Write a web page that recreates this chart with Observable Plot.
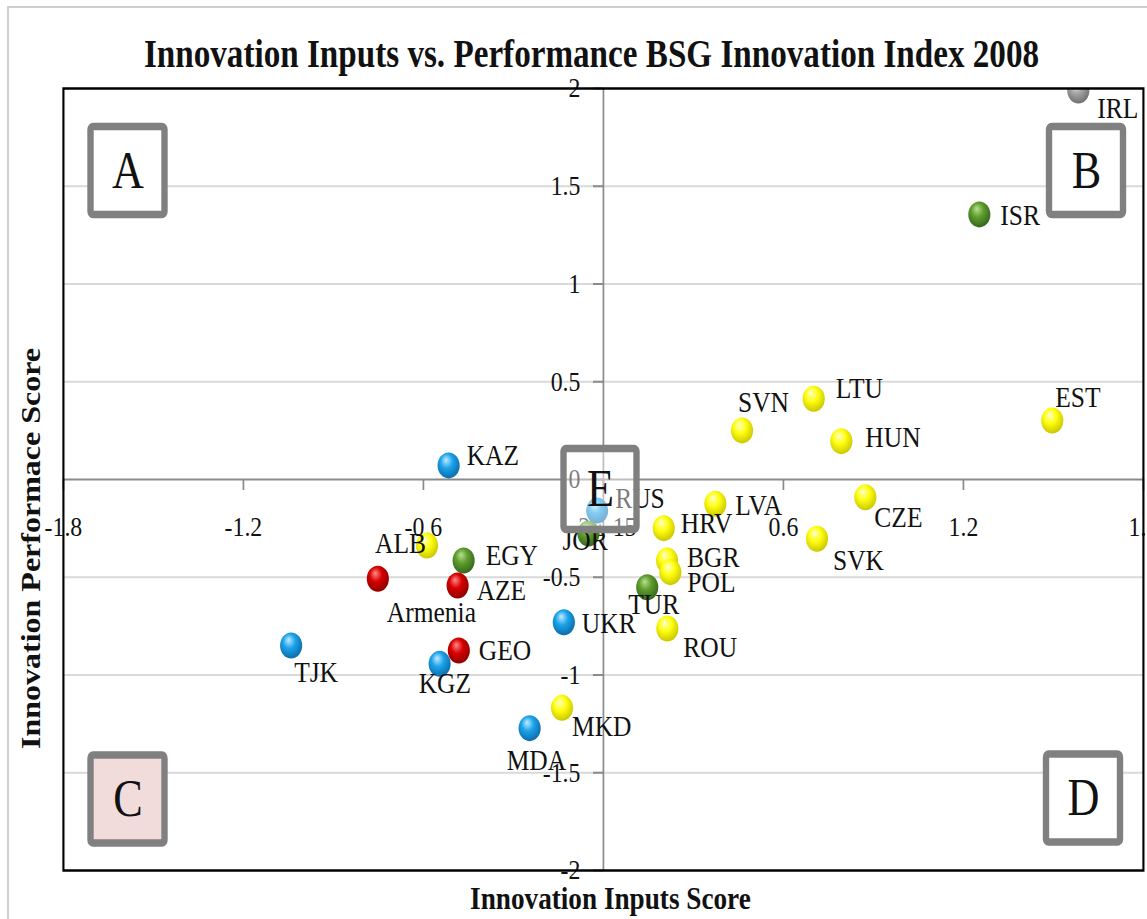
<!DOCTYPE html>
<html>
<head>
<meta charset="utf-8">
<script src="https://cdn.jsdelivr.net/npm/d3@7"></script>
<script src="https://cdn.jsdelivr.net/npm/@observablehq/plot@0.6"></script>
<style>
  body { margin: 0; background: #fff; width: 1147px; height: 919px; overflow: hidden; position: relative; font-family: "Liberation Serif", "DejaVu Serif", serif; }
  #border { position: absolute; left: 7px; top: 6px; width: 1300px; height: 1000px; border: 2px solid #cfcfcf; }
  #title { position: absolute; left: 0; top: 34px; width: 1183px; text-align: center; font: bold 39px/39px "Liberation Serif", serif; color: #111; transform: scaleX(0.85); transform-origin: 591.5px 0; white-space: nowrap; }
  #chart { position: absolute; left: 0; top: 80px; }
</style>
</head>
<body>
<div id="border"></div>
<div id="title">Innovation Inputs vs. Performance BSG Innovation Index 2008</div>
<div id="chart"></div>
<script>
// ---- data ----
const countries = ["IRL","ISR","EST","LTU","SVN","HUN","CZE","SVK","LVA","HRV","BGR","POL","TUR","ROU","RUS","JOR","KAZ","ALB","EGY","Armenia","AZE","GEO","KGZ","TJK","UKR","MKD","MDA"];
const inputScores = [1.583,1.253,1.496,0.701,0.462,0.793,0.873,0.712,0.373,0.201,0.212,0.223,0.146,0.213,-0.021,-0.05,-0.516,-0.588,-0.466,-0.752,-0.486,-0.482,-0.546,-1.041,-0.132,-0.138,-0.246];
const performanceScores = [1.99,1.356,0.302,0.413,0.251,0.196,-0.091,-0.303,-0.124,-0.249,-0.414,-0.474,-0.551,-0.762,-0.159,-0.276,0.072,-0.338,-0.414,-0.508,-0.542,-0.875,-0.943,-0.849,-0.730,-1.168,-1.272];
const groups = ["gray","green","yellow","yellow","yellow","yellow","yellow","yellow","yellow","yellow","yellow","yellow","green","yellow","blue","green","blue","yellow","green","red","red","red","blue","blue","blue","yellow","blue"];

const xTicks = [-1.8,-1.2,-0.6,0,0.6,1.2,1.8];
const xTickLabels = ["-1.8","-1.2","-0.6","-2E-15","0.6","1.2","1.8"];
const yTicks = [-2,-1.5,-1,-0.5,0,0.5,1,1.5,2];
const yTickLabels = ["-2","-1.5","-1","-0.5","0","0.5","1","1.5","2"];
const gridValues = [-1.5,-1,-0.5,0.5,1,1.5];

const quadrantLetters = ["A","B","C","D"];
const quadrantX = [-1.585,1.61,-1.585,1.6];
const quadrantY = [1.578,1.578,-1.637,-1.632];
const centerLetter = "E";
const centerX = -0.01;
const centerY = -0.051;

// ---- layout / style ----
const S = 1147 / 1349;         // horizontal squeeze of the original picture
const W = 1349, H = 839;
const groupColor = {yellow: "#ffff00", green: "#5e9c2e", red: "#d00000", blue: "#1ca3ea", gray: "#a6a6a6"};
const gradStops = {
  yellow: ["#ffffd0", "#ffff10", "#c9c400"],
  green:  ["#b9e08f", "#5e9c2e", "#35661a"],
  red:    ["#ff8a8a", "#d80000", "#8c0000"],
  blue:   ["#c2ecff", "#1ca3ea", "#0a6aa8"],
  gray:   ["#eeeeee", "#a6a6a6", "#6e6e6e"]
};
// label offsets in screen px: [anchor, dx, dy]
const labelLayout = {
  IRL:["start",19,18], ISR:["start",21,1], EST:["start",3,-23], LTU:["start",22,-10], SVN:["start",-4,-28],
  HUN:["start",24,-4], CZE:["start",9,20], SVK:["start",16,22], LVA:["start",20,2], HRV:["start",17,-5],
  BGR:["start",20,-3], POL:["start",17,10], TUR:["start",-19,17], ROU:["start",16,19], RUS:["start",18,-12],
  JOR:["start",-26,7], KAZ:["start",18,-10], ALB:["end",-1,-2], EGY:["start",22,-5], Armenia:["start",9,34],
  AZE:["start",19,5], GEO:["start",20,0], KGZ:["start",-21,20], TJK:["start",3,27], UKR:["start",18,1],
  MKD:["start",10,19], MDA:["start",-23,32]
};

const data = countries.map((c, i) => ({country: c, x: inputScores[i], y: performanceScores[i], group: groups[i]}));
const quads = quadrantLetters.map((l, i) => ({letter: l, x: quadrantX[i], y: quadrantY[i], fill: l === "C" ? "#f2dcdb" : "#ffffff"}));
const center = [{letter: centerLetter, x: centerX, y: centerY}];

const pxPerX = (1143 - 63) / 3.6, pxPerY = (870 - 88) / 4;
const boxHW = 37 / pxPerX, boxHH = 44 / pxPerY;
const eHW = 36.5 / pxPerX, eHH = 40.5 / pxPerY;
const xTickLen = 11 / pxPerY, yTickLen = 10 / pxPerX;
const axisGray = "#8a8a8a";

const labelMarks = data.map(d => {
  const [anchor, dx, dy] = labelLayout[d.country];
  return Plot.text([d], {x: "x", y: "y", text: "country", textAnchor: anchor, dx: dx / S, dy: dy, fontSize: 30, fill: "#111"});
});

const svg = Plot.plot({
  width: W, height: H,
  marginLeft: 63 / S, marginRight: W - 1143 / S, marginTop: 8, marginBottom: 49,
  x: {domain: [-1.8, 1.8], axis: null},
  y: {domain: [-2, 2], axis: null},
  color: {type: "identity"},
  style: {fontFamily: "'Liberation Serif', 'DejaVu Serif', serif", background: "transparent", overflow: "visible", color: "#111"},
  marks: [
    Plot.ruleY(gridValues, {stroke: "#d9d9d9", strokeWidth: 2}),
    Plot.ruleY([0], {stroke: axisGray, strokeWidth: 2}),
    Plot.ruleX([0], {stroke: axisGray, strokeWidth: 2}),
    Plot.ruleX(xTicks, {x: d => d, y1: 0, y2: -xTickLen, stroke: axisGray, strokeWidth: 2}),
    Plot.ruleY(yTicks, {y: d => d, x1: 0, x2: -yTickLen, stroke: axisGray, strokeWidth: 2}),
    Plot.text(xTicks, {x: d => d, y: 0, text: (d, i) => xTickLabels[i], dy: 48, fontSize: 28, fill: "#111"}),
    Plot.text(yTicks, {x: 0, y: d => d, text: (d, i) => yTickLabels[i], textAnchor: "end", dx: -23 / S, fontSize: 28, fill: "#111"}),
    Plot.rect(quads, {x1: d => d.x - boxHW, x2: d => d.x + boxHW, y1: d => d.y - boxHH, y2: d => d.y + boxHH, fill: "fill", stroke: "#808080", strokeWidth: 7.5, rx: 3}),
    Plot.text(quads, {x: "x", y: "y", text: "letter", fontSize: 52, fill: "#111"}),
    Plot.dot(data, {x: "x", y: "y", r: 13, fill: d => groupColor[d.group], clip: true}),
    ...labelMarks,
    Plot.rect(center, {x1: d => d.x - eHW, x2: d => d.x + eHW, y1: d => d.y - eHH, y2: d => d.y + eHH, fill: "#ffffff", fillOpacity: 0.45, stroke: "#808080", strokeWidth: 7.5, rx: 3}),
    Plot.text(center, {x: "x", y: "y", text: "letter", fontSize: 52, fill: "#111"}),
    Plot.text(["Innovation Inputs Score"], {frameAnchor: "bottom", textAnchor: "middle", lineAnchor: "middle", text: d => d, dy: 28, dx: 7 / S, fontWeight: "bold", fontSize: 32, fill: "#111"}),
    Plot.text(["Innovation Performace Score"], {frameAnchor: "left", textAnchor: "middle", lineAnchor: "middle", text: d => d, rotate: -90, dx: (31 - 63) / S, dy: 69, fontWeight: "bold", fontSize: 32, fill: "#111"}),
    Plot.frame({stroke: "#000", strokeWidth: 2.5})
  ]
});

// squeeze horizontally like the original picture
svg.setAttribute("width", 1147);
svg.setAttribute("height", H);
svg.setAttribute("viewBox", `0 0 ${W} ${H}`);
svg.setAttribute("preserveAspectRatio", "none");
svg.style.maxWidth = "none";
svg.style.width = "1147px";
svg.style.height = H + "px";

// spherical shading for the bubbles
const root = d3.select(svg);
const defs = root.insert("defs", ":first-child");
const gradMap = {};
Object.entries(gradStops).forEach(([k, stops]) => {
  const g = defs.append("radialGradient").attr("id", "grad-" + k)
    .attr("cx", "0.45").attr("cy", "0.4").attr("r", "0.62").attr("fx", "0.38").attr("fy", "0.28");
  g.append("stop").attr("offset", "0").attr("stop-color", stops[0]);
  g.append("stop").attr("offset", "0.45").attr("stop-color", stops[1]);
  g.append("stop").attr("offset", "1").attr("stop-color", stops[2]);
  gradMap[groupColor[k].toLowerCase()] = `url(#grad-${k})`;
});
root.selectAll('g[aria-label="dot"] circle').attr("fill", function () {
  const f = (this.getAttribute("fill") || "").toLowerCase();
  return gradMap[f] || f;
});

document.getElementById("chart").appendChild(svg);
</script>
</body>
</html>
